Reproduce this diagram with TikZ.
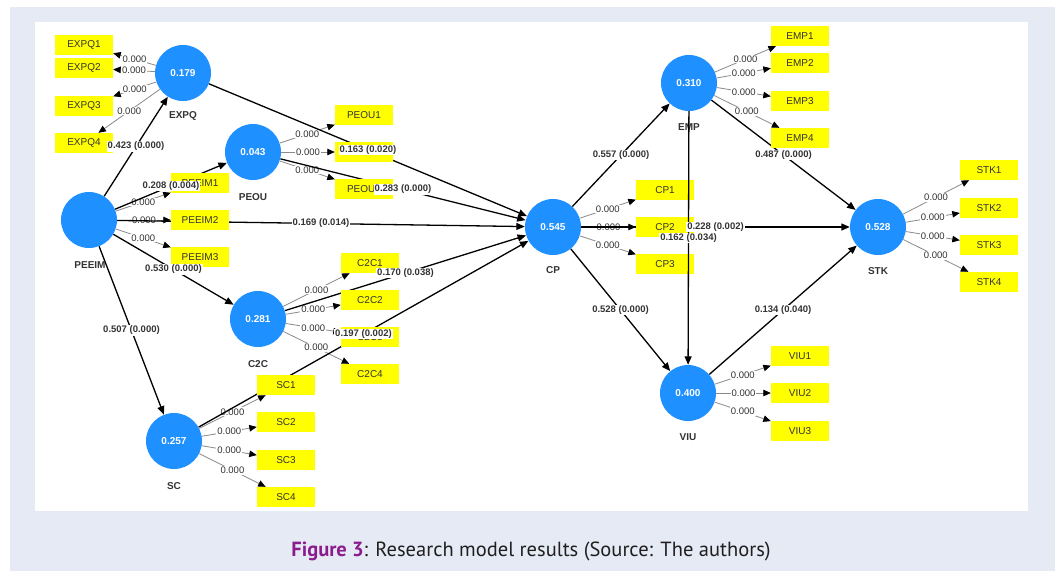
\documentclass[tikz,border=0pt]{standalone}
\usepackage{fontspec}
\setmainfont{Liberation Sans}
\newfontfamily\capfont{PT Sans}
\usetikzlibrary{arrows.meta}
\definecolor{lav}{HTML}{E6EAF5}
\definecolor{blueC}{HTML}{1E90FF}
\definecolor{yel}{HTML}{FFFF00}
\definecolor{purp}{HTML}{8B1C8E}
\definecolor{txt}{HTML}{333333}
\definecolor{ldgray}{HTML}{8A8A8A}
\pgfdeclarelayer{back}
\pgfdeclarelayer{lines}
\pgfdeclarelayer{front}
\pgfsetlayers{back,lines,main,front}
\begin{document}
\begin{tikzpicture}[x=1pt,y=-1pt,
  lv/.style={circle,fill=blueC,minimum size=56pt,inner sep=0pt,text=white,font=\bfseries\fontsize{10}{11}\selectfont},
  lvname/.style={text=txt,font=\bfseries\fontsize{10}{11}\selectfont},
  ind/.style={fill=yel,minimum width=58pt,minimum height=20pt,inner sep=0pt,font=\fontsize{10}{11}\selectfont,text=txt},
  ld/.style={draw=ldgray,line width=0.8pt,-{Triangle[length=7.5pt,width=6.5pt,color=black]}},
  ldl/.style={fill=white,inner sep=1pt,font=\fontsize{9.5}{10}\selectfont,text=txt},
  pth/.style={draw=black,line width=1.3pt,-{Triangle[length=8.5pt,width=7pt]}},
  pl/.style={fill=white,inner sep=1pt,font=\bfseries\fontsize{9.5}{10}\selectfont,text=txt}]
\useasboundingbox (0,0) rectangle (1055,571);
\begin{pgfonlayer}{back}
\fill[white] (0,0) rectangle (1055,571);
\fill[lav] (10,7) rectangle (1055,571);
\fill[white] (35,22) rectangle (1028,511);
\end{pgfonlayer}

% latent variables
\node[lv] (PEEIM) at (89,220) {};
\node[lv] (EXPQ) at (183,73) {0.179};
\node[lv] (PEOU) at (253,152) {0.043};
\node[lv] (C2C) at (258,319) {0.281};
\node[lv] (SC) at (174,441) {0.257};
\node[lv] (CP) at (553,227) {0.545};
\node[lv] (EMP) at (689,83) {0.310};
\node[lv] (VIU) at (688,393) {0.400};
\node[lv] (STK) at (878,227) {0.528};

\node[lvname] (PEEIMn) at (90,265) {PEEIM};
\node[lvname] (EXPQn) at (183,116) {EXPQ};
\node[lvname] (PEOUn) at (253,197) {PEOU};
\node[lvname] (C2Cn) at (258,364) {C2C};
\node[lvname] (SCn) at (174,486) {SC};
\node[lvname] (CPn) at (553,270) {CP};
\node[lvname] (EMPn) at (689,127) {EMP};
\node[lvname] (VIUn) at (688,437) {VIU};
\node[lvname] (STKn) at (878,271) {STK};

% indicators
\node[ind] (EXPQ1) at (84,45) {EXPQ1};
\node[ind] (EXPQ2) at (84,68) {EXPQ2};
\node[ind] (EXPQ3) at (84,106) {EXPQ3};
\node[ind] (EXPQ4) at (84,143) {EXPQ4};
\node[ind] (PEEIM1) at (200,183) {PEEIM1};
\node[ind] (PEEIM2) at (200,220) {PEEIM2};
\node[ind] (PEEIM3) at (200,257) {PEEIM3};
\node[ind] (PEOU1) at (364,115) {PEOU1};
\node[ind] (PEOU2) at (364,152) {PEOU2};
\node[ind] (PEOU3) at (364,189) {PEOU3};
\node[ind] (C2C1) at (370,263) {C2C1};
\node[ind] (C2C2) at (370,300) {C2C2};
\node[ind] (C2C3) at (370,337) {C2C3};
\node[ind] (C2C4) at (370,374) {C2C4};
\node[ind] (SC1) at (286,385) {SC1};
\node[ind] (SC2) at (286,422) {SC2};
\node[ind] (SC3) at (286,460) {SC3};
\node[ind] (SC4) at (286,497) {SC4};
\node[ind] (CP1) at (665,190) {CP1};
\node[ind] (CP2) at (665,227) {CP2};
\node[ind] (CP3) at (665,264) {CP3};
\node[ind] (EMP1) at (800,36) {EMP1};
\node[ind] (EMP2) at (800,63) {EMP2};
\node[ind] (EMP3) at (800,101) {EMP3};
\node[ind] (EMP4) at (800,138) {EMP4};
\node[ind] (VIU1) at (800,356) {VIU1};
\node[ind] (VIU2) at (800,393) {VIU2};
\node[ind] (VIU3) at (800,431) {VIU3};
\node[ind] (STK1) at (989,170) {STK1};
\node[ind] (STK2) at (989,208) {STK2};
\node[ind] (STK3) at (989,245) {STK3};
\node[ind] (STK4) at (989,282) {STK4};

\begin{pgfonlayer}{lines}
% loadings
\foreach \lv/\ind in {EXPQ/EXPQ1,EXPQ/EXPQ2,EXPQ/EXPQ3,EXPQ/EXPQ4,
  PEEIM/PEEIM1,PEEIM/PEEIM2,PEEIM/PEEIM3,
  PEOU/PEOU1,PEOU/PEOU2,PEOU/PEOU3,
  C2C/C2C1,C2C/C2C2,C2C/C2C3,C2C/C2C4,
  SC/SC1,SC/SC2,SC/SC3,SC/SC4,
  CP/CP1,CP/CP2,CP/CP3,
  EMP/EMP1,EMP/EMP2,EMP/EMP3,EMP/EMP4,
  VIU/VIU1,VIU/VIU2,VIU/VIU3,
  STK/STK1,STK/STK2,STK/STK3,STK/STK4}
  {\draw[ld] (\lv) -- node[ldl]{0.000} (\ind);}
% structural paths
\draw[pth] (PEEIM) -- (EXPQ);
\draw[pth] (PEEIM) -- (PEOU);
\draw[pth] (PEEIM) -- (CP);
\draw[pth] (PEEIM) -- (C2C);
\draw[pth] (PEEIM) -- (SC);
\draw[pth] (EXPQ) -- (CP);
\draw[pth] (PEOU) -- (CP);
\draw[pth] (C2C) -- (CP);
\draw[pth] (SC) -- (CP);
\draw[pth] (CP) -- (EMP);
\draw[pth] (CP) -- (VIU);
\draw[pth] (CP) -- (STK);
\draw[pth] (EMP) -- (STK);
\draw[pth] (VIU) -- (STK);
\end{pgfonlayer}
\draw[pth] (EMP) -- (VIU);

\begin{pgfonlayer}{front}
\path (PEEIM) -- node[pl]{0.423 (0.000)} (EXPQ);
\path (PEEIM) -- node[pl]{0.208 (0.004)} (PEOU);
\path (PEEIM) -- node[pl]{0.169 (0.014)} (CP);
\path (PEEIM) -- node[pl]{0.530 (0.000)} (C2C);
\path (PEEIM) -- node[pl]{0.507 (0.000)} (SC);
\path (EXPQ) -- node[pl]{0.163 (0.020)} (CP);
\path (PEOU) -- node[pl]{0.283 (0.000)} (CP);
\path (C2C) -- node[pl]{0.170 (0.038)} (CP);
\path (SC) -- node[pl]{0.197 (0.002)} (CP);
\path (CP) -- node[pl]{0.557 (0.000)} (EMP);
\path (CP) -- node[pl]{0.528 (0.000)} (VIU);
\path (CP) -- node[pl]{0.228 (0.002)} (STK);
\path (EMP) -- node[pl]{0.162 (0.034)} (VIU);
\path (EMP) -- node[pl]{0.487 (0.000)} (STK);
\path (VIU) -- node[pl]{0.134 (0.040)} (STK);
\end{pgfonlayer}

\node[font=\capfont\fontsize{20.5}{24}\selectfont,text=black!88,anchor=base] (cap) at (531,556)
  {\textcolor{purp}{\bfseries Figure 3}: Research model results (Source: The authors)};
\end{tikzpicture}
\end{document}
